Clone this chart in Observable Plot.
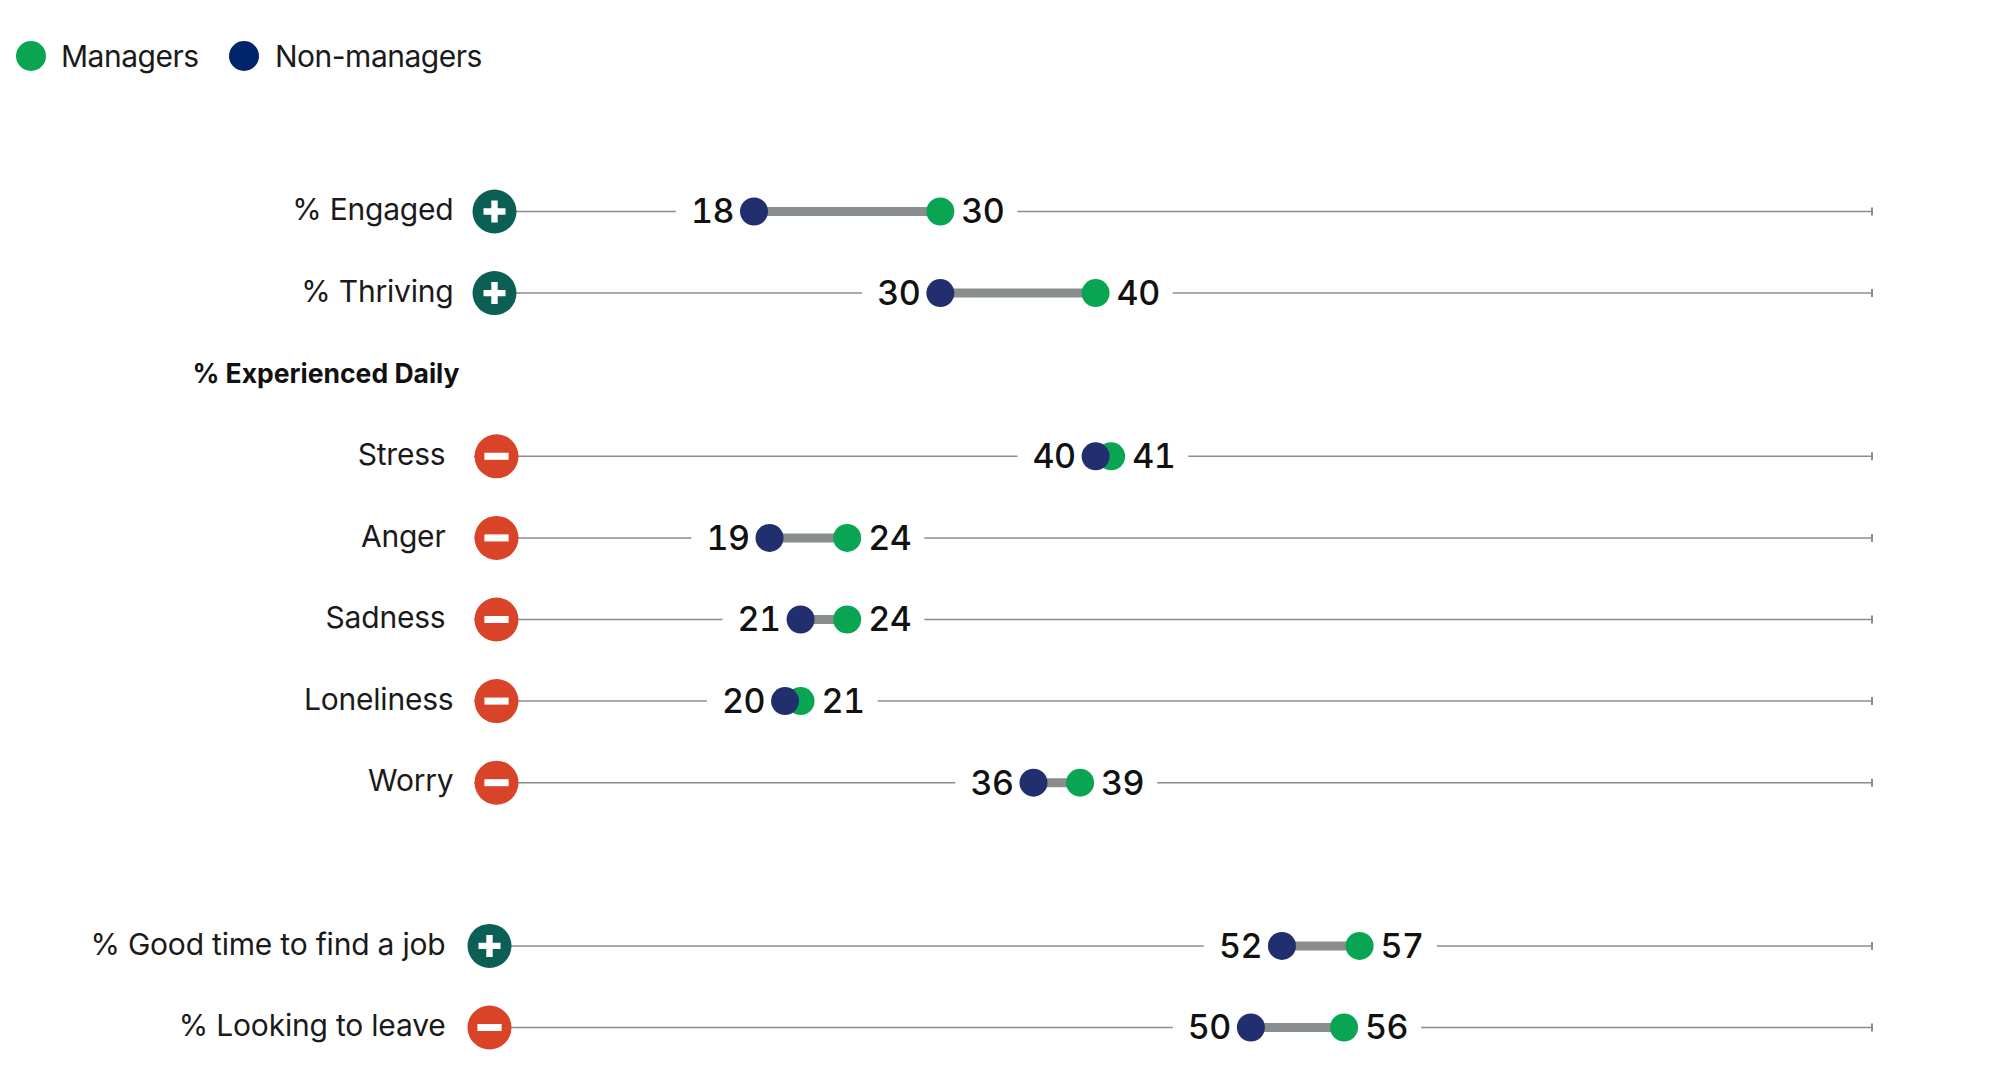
<!DOCTYPE html>
<html>
<head>
<meta charset="utf-8">
<script src="https://cdn.jsdelivr.net/npm/d3@7"></script>
<script src="https://cdn.jsdelivr.net/npm/@observablehq/plot@0.6"></script>
<style>
  html, body { margin: 0; background: #fff; overflow: hidden; }
  svg { display: block; }
  #legend { height: 112px; position: relative; font: 400 30px Inter, sans-serif; letter-spacing: -0.5px; color: #1a1a1a; }
  #legend span { position: absolute; top: 38px; line-height: 36px; white-space: nowrap; }
  #legend i { position: absolute; top: 41px; width: 30px; height: 30px; border-radius: 50%; }
  .row-label text { letter-spacing: -0.2px; }
  .value-label text { letter-spacing: -0.5px; }
</style>
</head>
<body>
<div id="legend">
  <i style="left:16px;background:#0aa552"></i><span style="left:61px">Managers</span>
  <i style="left:229px;background:#00246b"></i><span style="left:275px">Non-managers</span>
</div>
<div id="chart"></div>
<script>
const rows = ["% Engaged", "% Thriving", "% Experienced Daily", "Stress", "Anger", "Sadness", "Loneliness", "Worry", " ", "% Good time to find a job", "% Looking to leave"];
const measures = ["% Engaged", "% Thriving", "Stress", "Anger", "Sadness", "Loneliness", "Worry", "% Good time to find a job", "% Looking to leave"];
const managers = [30, 40, 41, 24, 24, 21, 39, 57, 56];
const nonManagers = [18, 30, 40, 19, 21, 20, 36, 52, 50];
const signs = ["+", "+", "-", "-", "-", "-", "-", "+", "-"];
const heading = ["% Experienced Daily"];

const table = measures.map((row, i) => ({row, m: managers[i], n: nonManagers[i], sign: signs[i]}));
const GAP = 5, AXIS_MAX = 90;

// custom white glyphs and axis end-cap
const barSymbol = (hw, hh) => ({draw(ctx, size) {
  const r = Math.sqrt(size / Math.PI);
  ctx.rect(-hw * r, -hh * r, 2 * hw * r, 2 * hh * r);
}});
const plusSymbol = {draw(ctx, size) {
  const r = Math.sqrt(size / Math.PI), a = r, b = 0.29 * r;
  ctx.moveTo(-b, -a); ctx.lineTo(b, -a); ctx.lineTo(b, -b); ctx.lineTo(a, -b); ctx.lineTo(a, b);
  ctx.lineTo(b, b); ctx.lineTo(b, a); ctx.lineTo(-b, a); ctx.lineTo(-b, b); ctx.lineTo(-a, b);
  ctx.lineTo(-a, -b); ctx.lineTo(-b, -b); ctx.closePath();
}};

const iconGroups = [
  {names: ["% Engaged", "% Thriving"], dx: 20},
  {names: ["Stress", "Anger", "Sadness", "Loneliness", "Worry"], dx: 22},
  {names: ["% Good time to find a job", "% Looking to leave"], dx: 15}
];
const labelGroups = [
  {names: ["% Engaged", "% Thriving", "Loneliness", "Worry"], dx: -21},
  {names: ["Stress", "Anger", "Sadness", "% Good time to find a job", "% Looking to leave"], dx: -29}
];

const iconMarks = iconGroups.flatMap(({names, dx}) => {
  const d = table.filter(t => names.includes(t.row));
  return [
    Plot.dot(d, {x: () => 0, y: "row", dx, r: 22, fill: t => t.sign === "+" ? "#0b5f55" : "#d94428"}),
    Plot.dot(d.filter(t => t.sign === "+"), {x: () => 0, y: "row", dx, r: 11, symbol: plusSymbol, fill: "#fff"}),
    Plot.dot(d.filter(t => t.sign === "-"), {x: () => 0, y: "row", dx, r: 11, symbol: barSymbol(1.1, 0.32), fill: "#fff"})
  ];
});
const labelMarks = labelGroups.map(({names, dx}) =>
  Plot.text(table.filter(t => names.includes(t.row)), {
    x: () => 0, y: "row", text: "row", dx, dy: -1, textAnchor: "end", className: "row-label",
    fontSize: 30, fontFamily: "Inter", fontWeight: 400, fill: "#1a1a1a"
  }));

const plot = Plot.plot({
  width: 2000,
  height: 954,
  margin: 0,
  x: {domain: [0, AXIS_MAX], range: [474, 1871.5], axis: null},
  y: {type: "point", domain: rows, range: [99, 915], padding: 0, round: false, axis: null},
  marks: [
    Plot.ruleY(table, {y: "row", x1: () => 0, x2: t => t.n - GAP, stroke: "#8c8c8c", strokeWidth: 1.5}),
    Plot.ruleY(table, {y: "row", x1: t => t.m + GAP, x2: () => AXIS_MAX, stroke: "#8c8c8c", strokeWidth: 1.5}),
    Plot.dot(table, {x: () => AXIS_MAX, y: "row", r: 4, symbol: barSymbol(0.25, 1), fill: "#8c8c8c"}),
    ...iconMarks,
    ...labelMarks,
    Plot.text(heading, {x: () => 0, y: d => d, text: d => d, dx: -15, textAnchor: "end",
      fontSize: 26.5, fontFamily: "Inter", fontWeight: 700, fill: "#111"}),
    Plot.ruleY(table, {y: "row", x1: "n", x2: "m", stroke: "#8a8d8d", strokeWidth: 9}),
    Plot.dot(table, {x: "m", y: "row", r: 14, fill: "#0aa552"}),
    Plot.dot(table, {x: "n", y: "row", r: 14, fill: "#222f6e"}),
    Plot.text(table, {x: "n", y: "row", text: "n", dx: -20, dy: 1, textAnchor: "end", className: "value-label",
      fontSize: 34, fontFamily: "Inter", fontWeight: 500, fill: "#111"}),
    Plot.text(table, {x: "m", y: "row", text: "m", dx: 21, dy: 1, textAnchor: "start", className: "value-label",
      fontSize: 34, fontFamily: "Inter", fontWeight: 500, fill: "#111"})
  ]
});
document.getElementById("chart").append(plot);
</script>
</body>
</html>
